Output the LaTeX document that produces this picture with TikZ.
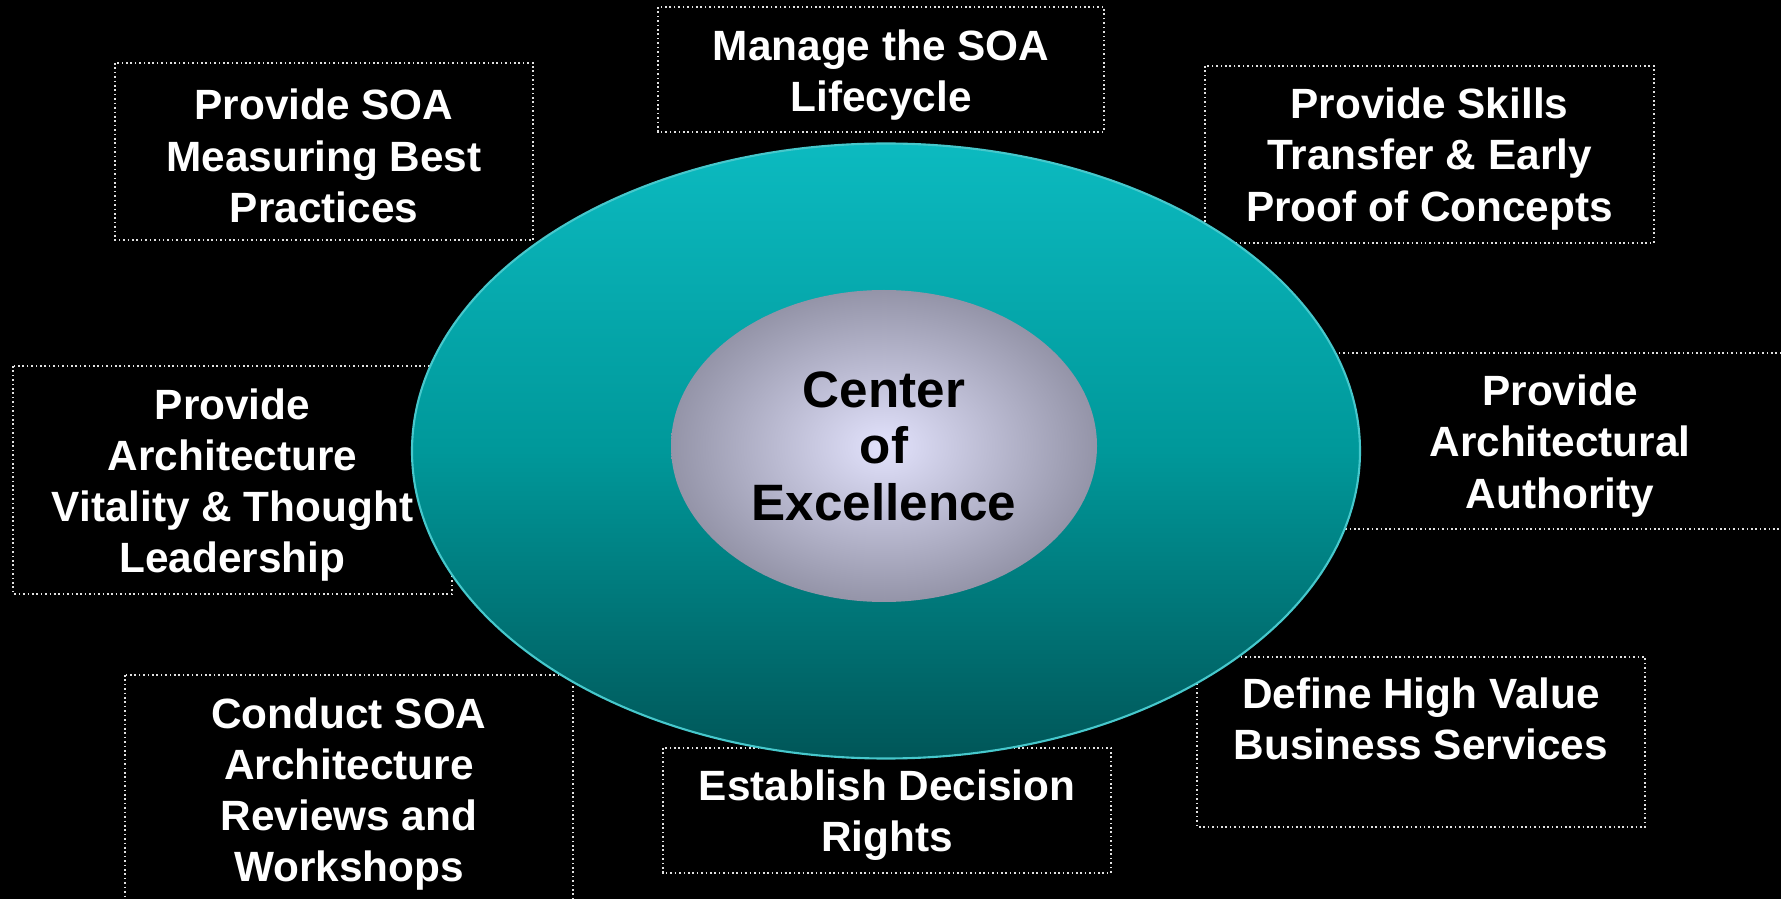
\documentclass[tikz,border=0pt]{standalone}
\usepackage{fontspec}
\setmainfont{Liberation Sans}
\usetikzlibrary{shapes}
\definecolor{tealtop}{RGB}{12,186,192}
\definecolor{tealmid}{RGB}{0,152,154}
\definecolor{tealbot}{RGB}{0,86,88}
\definecolor{tealedge}{RGB}{70,200,204}
\definecolor{corein}{RGB}{226,226,252}
\definecolor{coreout}{RGB}{148,148,168}
\definecolor{dotgrey}{RGB}{225,225,225}
\pgfdeclarelayer{bg}
\pgfsetlayers{bg,main}
\tikzset{
every picture/.style={
line width=1pt
}}

\begin{document}
\begin{tikzpicture}[x=0.5669pt, y=-0.5669pt,
boxdim/.style 2 args = {minimum width=#1*0.5669pt, minimum height=#2*0.5669pt},
goal/.style = {rectangle, text=white, align=center, inner sep=0pt, outer sep=0pt, font=\fontsize{24}{29}\selectfont\bfseries},
frame/.style = {draw=dotgrey, line width=0.9pt, dash pattern=on 0.9pt off 1.6pt},
core/.style = {ellipse, inner sep=0pt, align=center, font=\fontsize{29}{32}\selectfont\bfseries}]
\useasboundingbox (0,0) rectangle (1781,899);

\node[core, boxdim={948}{615}, draw=tealedge, line width=1.2pt, top color=tealtop, bottom color=tealbot, middle color=tealmid] (ring) at (886,451) {};
\node[core, boxdim={426}{312}, inner color=corein, outer color=coreout] (coe) at (884,446) {Center\\of\\Excellence};

\node[goal, boxdim={418}{177}] (measure) at (324,156) {Provide SOA\\Measuring Best\\Practices};
\node[goal, boxdim={446}{125}] (manage) at (881,75) {Manage the SOA\\Lifecycle};
\node[goal, boxdim={449}{177}] (skills) at (1429.5,159) {Provide Skills\\Transfer \& Early\\Proof of Concepts};
\node[goal, boxdim={439}{228}] (vitality) at (232.5,485) {Provide\\Architecture\\Vitality \& Thought\\Leadership};
\node[goal, boxdim={448}{176}] (authority) at (1560,446) {Provide\\Architectural\\Authority};
\node[goal, boxdim={448}{230}] (conduct) at (349,794) {Conduct SOA\\Architecture\\Reviews and\\Workshops};
\node[goal, boxdim={448}{125}] (decision) at (887,815) {Establish Decision\\Rights};
\node[goal, boxdim={448}{170}] (define) at (1421,752) {Define High Value\\Business Services\\\strut};

\begin{pgfonlayer}{bg}
\fill[black] (0,0) rectangle (1781,899);
\foreach \n/\d in {measure/4.5,manage/5.5,skills/4.5,vitality/5,authority/5,conduct/4,decision/4.5,define/10}
  \draw[frame] ([yshift=\d*0.5669pt]\n.north west) rectangle ([yshift=\d*0.5669pt]\n.south east);
\end{pgfonlayer}
\end{tikzpicture}
\end{document}
